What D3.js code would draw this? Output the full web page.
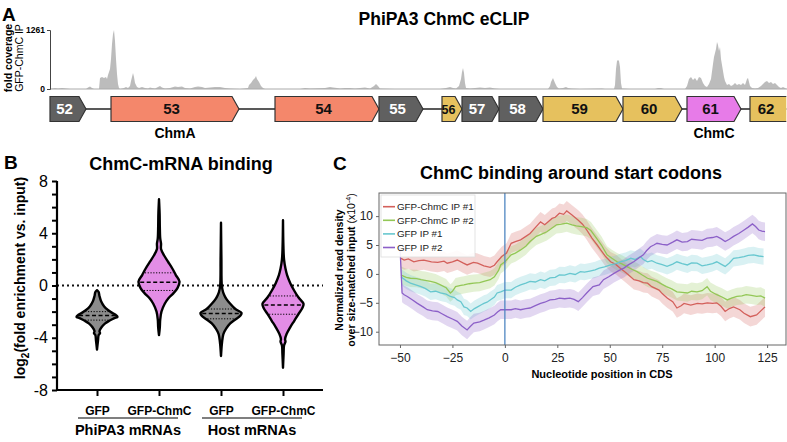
<!DOCTYPE html>
<html>
<head>
<meta charset="utf-8">
<script src="https://cdn.jsdelivr.net/npm/d3@7"></script>
<style>
  body { margin: 0; background: #fff; }
  svg { font-family: "Liberation Sans", Arial, sans-serif; }
</style>
</head>
<body>
<svg id="fig" width="787" height="442"></svg>
<script>
// ---- panel A data ----
var geneNames = ["52", "53", "54", "55", "56", "57", "58", "59", "60", "61", "62"];
var geneStart = [0, 610, 2250, 3290, 3920, 4120, 4490, 4930, 5730, 6370, 7000];
var geneEnd = [360, 1890, 3290, 3730, 4120, 4490, 4930, 5730, 6320, 6910, 7450];
var geneKind = ["other", "chmA", "chmA", "other", "yellow", "other", "other", "yellow", "yellow", "chmC", "yellow"];
var geneTags = [{ gene: "53", text: "ChmA" }, { gene: "61", text: "ChmC" }];
var coverage = [[0,0],[50,21],[80,11],[120,21],[160,11],[200,0],[360,0],[380,32],[400,54],[420,21],[440,0],
  [490,0],[500,235],[520,257],[540,235],[560,257],[570,214],[580,300],[600,428],[610,642],[620,963],[630,1177],
  [640,1261],[650,1027],[660,642],[670,321],[680,107],[690,21],[700,0],[740,21],[760,43],[780,21],[800,64],
  [810,171],[830,342],[840,257],[850,128],[870,43],[890,21],[920,43],[950,21],[980,11],[1000,32],[1020,21],
  [1050,11],[1080,43],[1100,64],[1120,32],[1150,11],[1200,21],[1250,54],[1280,43],[1320,54],[1350,21],[1400,11],
  [1450,43],[1480,54],[1520,43],[1550,21],[1600,32],[1650,43],[1700,43],[1750,21],[1800,11],[1900,0],[1980,21],
  [1990,86],[2010,128],[2030,193],[2050,235],[2060,278],[2070,214],[2090,150],[2110,64],[2130,21],[2150,0],
  [2500,0],[2550,21],[2600,11],[2750,21],[2800,43],[2830,32],[2870,21],[2900,11],[2950,21],[3000,21],[3050,11],
  [3100,21],[3150,32],[3200,11],[3240,64],[3260,107],[3280,64],[3300,11],[3450,0],[3900,0],[3960,21],[4000,43],
  [4030,21],[4060,11],[4090,64],[4110,214],[4120,364],[4130,449],[4140,342],[4150,128],[4160,21],[4200,11],
  [4250,21],[4300,32],[4350,21],[4400,32],[4450,11],[4500,0],[4980,0],[5000,64],[5010,150],[5030,235],[5050,128],
  [5070,43],[5090,11],[5130,21],[5160,43],[5180,21],[5210,11],[5300,0],[5520,11],[5550,0],[5640,0],[5650,86],
  [5660,428],[5670,599],[5680,621],[5690,599],[5700,471],[5710,128],[5720,11],[5800,0],[6050,0],[6080,21],
  [6110,21],[6140,0],[6350,0],[6370,64],[6390,214],[6410,257],[6430,193],[6450,235],[6470,171],[6490,257],
  [6510,235],[6530,128],[6550,64],[6570,43],[6590,107],[6610,214],[6630,535],[6640,685],[6660,856],[6670,1006],
  [6680,942],[6690,813],[6700,899],[6710,642],[6720,514],[6730,385],[6740,257],[6750,171],[6770,86],[6790,107],
  [6810,64],[6830,86],[6850,128],[6870,86],[6890,107],[6910,86],[6930,128],[6950,86],[6970,214],[6980,235],
  [6990,150],[7000,64],[7020,21],[7050,11],[7080,21],[7110,64],[7130,107],[7150,150],[7170,171],[7190,128],
  [7210,150],[7230,107],[7250,128],[7270,86],[7290,43],[7310,21],[7330,43],[7350,21],[7370,0]];
var covTicks = [0, 1261];

// ---- panel B data ----
var violinCats = ["GFP", "GFP-ChmC", "GFP ", "GFP-ChmC "];
var violinLabels = ["GFP", "GFP-ChmC", "GFP", "GFP-ChmC"];
var violinGroups = [{ name: "PhiPA3 mRNAs", from: 0, to: 1 }, { name: "Host mRNAs", from: 2, to: 3 }];
// [log2 value, relative half width]
var shapeGfpPhage = [[-0.36,0],[-0.5,0.08],[-0.8,0.12],[-1.2,0.2],[-1.6,0.35],[-1.9,0.55],[-2.1,0.75],[-2.3,0.95],
  [-2.4,1.0],[-2.5,0.85],[-2.7,0.6],[-2.9,0.4],[-3.2,0.22],[-3.5,0.12],[-3.65,0.15],[-3.8,0.08],[-4.2,0.05],[-4.9,0]];
var shapeChmcPhage = [[6.6,0],[5.5,0.03],[4.5,0.04],[3.6,0.06],[3.2,0.1],[2.8,0.1],[2.3,0.25],[1.8,0.45],[1.3,0.65],
  [0.8,0.82],[0.3,1.0],[-0.2,0.9],[-0.6,0.7],[-1.0,0.45],[-1.4,0.28],[-2.0,0.12],[-2.6,0.06],[-3.2,0.04],[-3.8,0]];
var shapeGfpHost = [[4.8,0],[2.0,0.02],[0,0.04],[-0.5,0.1],[-0.7,0.15],[-1.0,0.25],[-1.4,0.45],[-1.8,0.7],[-2.1,1.0],
  [-2.3,0.95],[-2.6,0.7],[-2.9,0.45],[-3.3,0.25],[-3.7,0.12],[-4.0,0.08],[-4.5,0.04],[-5.4,0]];
var shapeChmcHost = [[5.0,0],[3.0,0.02],[2.0,0.05],[1.3,0.12],[0.8,0.2],[0.2,0.35],[-0.4,0.55],[-0.9,0.75],[-1.4,1.0],
  [-1.7,0.95],[-2.2,0.75],[-2.7,0.55],[-3.2,0.35],[-3.7,0.18],[-4.1,0.1],[-4.3,0.12],[-4.6,0.05],[-5.2,0.03],[-6.3,0]];
var violinShapes = [shapeGfpPhage, shapeChmcPhage, shapeGfpHost, shapeChmcHost];
var violinMedian = [-2.3, 0.25, -2.15, -1.5];
var violinQ1 = [-2.65, -0.38, -2.55, -2.2];
var violinQ3 = [-2.0, 0.97, -1.8, -0.8];
var violinIsChmc = [false, true, false, true];

// ---- panel C data ----
var seriesNames = ["GFP-ChmC IP #1", "GFP-ChmC IP #2", "GFP IP #1", "GFP IP #2"];
var chmc1 = [[-49.5,2.7],[-48,2.4],[-46,2.6],[-43.4,2.1],[-41,2.3],[-38.6,2.4],[-35,2.1],[-32,2.0],[-29,2.2],[-27.5,1.85],
  [-25,2.1],[-22.7,2.4],[-20,1.9],[-18,1.55],[-15,2.0],[-13,1.85],[-10,1.4],[-7,1.15],[-5,1.5],[-3.7,2.1],[-1.5,3.0],
  [0.8,3.6],[3,5.3],[5,5.6],[7.5,5.9],[10,6.5],[12,7.0],[14.5,8.0],[17,9.0],[19,8.5],[22.5,9.6],[24,9.8],[26,10.5],
  [28,10.3],[29.5,10.9],[32,10.2],[35,9.3],[37,8.6],[39,7.6],[41.5,6.2],[44,5.0],[46,4.0],[48,3.0],[50.4,2.1],[53,1.6],
  [55,1.0],[57,0.4],[59,-0.2],[61.5,-1.0],[64,-1.2],[66,-1.5],[68,-1.6],[70,-2.2],[73.5,-2.8],[75,-3.4],[77.5,-4.2],
  [80,-4.8],[82,-5.9],[84,-5.5],[85.4,-5.1],[88.6,-5.4],[91.8,-5.1],[94,-5.2],[96.5,-5.0],[99,-5.1],[101,-5.0],
  [103,-5.6],[105,-6.5],[107,-6.0],[109,-5.7],[112,-6.2],[114,-6.8],[117,-7.4],[120,-7.1],[122,-6.4],[124,-5.7]];
var chmc2 = [[-49.5,-0.2],[-47,-0.6],[-45,-0.75],[-42,-0.8],[-40,-1.0],[-38,-1.1],[-35.4,-1.3],[-33,-1.5],[-30.7,-1.9],
  [-28,-2.4],[-26,-3.3],[-25,-3.0],[-23.5,-2.2],[-21,-2.0],[-19.5,-1.9],[-17,-1.7],[-14.8,-1.6],[-12,-1.5],[-10,-1.3],
  [-7,-1.0],[-5,-0.5],[-3,0.6],[-2,1.55],[0,2.1],[3,3.3],[5,3.6],[7.5,4.15],[10,4.8],[12,5.6],[15,6.5],[17,6.8],
  [20,7.3],[22,7.8],[24.6,8.5],[27,8.6],[29.5,8.8],[32,8.5],[34,8.3],[36.5,8.2],[39,8.0],[41,7.5],[44,6.0],[46,5.0],
  [48.7,3.3],[51,2.7],[53.5,2.1],[56,1.7],[58,1.3],[60.5,0.8],[63,0.4],[65.5,-0.2],[68,-0.75],[70,-1.0],[72.5,-1.3],
  [75,-1.8],[77,-2.2],[79.5,-2.6],[82,-3.1],[84.5,-3.2],[87,-3.3],[89,-3.0],[91.6,-3.1],[94,-2.9],[96.4,-2.2],
  [98,-3.0],[101,-3.6],[103.5,-4.0],[106,-4.5],[108,-4.2],[110.6,-3.9],[113,-3.8],[115,-3.6],[117.5,-3.7],[120,-3.9],
  [122,-3.8],[124,-4.2]];
var gfp1 = [[-49.5,-0.5],[-47,-1.2],[-45,-1.6],[-42.5,-1.9],[-40,-2.2],[-38,-2.5],[-35.4,-3.1],[-33,-3.0],[-30.7,-3.3],
  [-28,-3.5],[-26,-3.9],[-24,-4.1],[-22.7,-4.5],[-21,-4.8],[-19.5,-5.7],[-18,-5.9],[-16.3,-6.5],[-14.5,-6.0],[-13,-5.7],
  [-11,-5.3],[-10,-5.1],[-8.5,-4.9],[-7,-4.5],[-5,-4.0],[-3.7,-3.3],[-2,-3.1],[0,-2.8],[3,-2.8],[5,-2.3],[7.5,-1.9],
  [10,-1.6],[12,-1.3],[14.5,-1.4],[17,-1.0],[19,-1.2],[21.5,-0.7],[24,-0.6],[26,-0.17],[28.5,-0.2],[31,0.1],
  [33.5,-0.1],[36,0.4],[38,0.3],[40.5,0.5],[43,0.7],[45,1.0],[47.5,1.2],[50.4,1.55],[53,1.8],[55,2.1],[57.5,2.3],
  [60,2.7],[62,2.5],[64.6,3.0],[66,2.5],[68,2.1],[70,2.3],[72.5,1.85],[75,1.6],[77.3,1.3],[80,1.7],[82,2.1],
  [84.5,1.8],[87,1.55],[89,1.9],[91.6,1.85],[94,1.4],[96.4,1.55],[99,1.8],[101,2.1],[103,1.7],[105,1.3],[107,1.9],
  [109,2.7],[111.5,2.8],[114,3.0],[116,3.2],[118.6,3.3],[121,3.1],[123.3,3.0]];
var gfp2 = [[-50,4.7],[-49,-3.3],[-48,-3.6],[-46.5,-3.9],[-44,-4.5],[-41.7,-5.1],[-39,-5.7],[-37,-6.2],[-34.5,-6.4],
  [-32,-6.5],[-30,-6.9],[-27.5,-7.4],[-25,-7.8],[-22.7,-8.2],[-20.5,-9.0],[-18,-9.7],[-16.5,-9.1],[-14.8,-8.5],
  [-12,-8.3],[-10,-8.0],[-7.5,-7.6],[-5,-7.1],[-3.5,-6.6],[-2,-6.2],[0,-6.2],[3,-6.2],[5,-6.0],[7.5,-6.2],[10,-6.0],
  [12,-5.9],[14.5,-5.5],[17,-5.1],[19,-4.9],[21.5,-4.5],[24,-4.4],[26,-4.2],[28.5,-4.3],[31,-4.2],[33,-4.4],
  [35,-4.8],[37,-4.1],[39,-3.3],[42,-2.2],[45,-1.9],[47,-1.0],[49.5,-0.5],[52,0.1],[54.5,0.6],[56.7,1.0],[59,1.6],
  [61.4,2.1],[64,2.8],[66,3.3],[67.5,4.0],[69.4,4.7],[71,5.0],[72.5,5.3],[75,5.1],[77.3,5.0],[80,5.5],[82,5.9],
  [84.5,5.5],[87,5.6],[89,6.0],[91.6,5.9],[94,5.8],[96.4,6.2],[99,6.3],[101,6.5],[103,6.1],[105,5.6],[107,6.0],
  [109,6.5],[111.5,7.0],[114,7.6],[116,8.1],[118,8.65],[119.5,8.2],[121,7.6],[122.5,7.4],[124,7.3]];
var seriesData = [chmc1, chmc2, gfp1, gfp2];
var seriesBand = [1.7, 1.5, 1.4, 1.6];
var xTicksC = [-50, -25, 0, 25, 50, 75, 100, 125];
var yTicksC = [-10, -5, 0, 5, 10];

var font = '"Liberation Sans", Arial, sans-serif';
var svg = d3.select("#fig");

function bold(sel) { return sel.attr("font-weight", "bold"); }

// panel letters
[["A", 2, 21], ["B", 4, 169], ["C", 333, 170]].forEach(function (p) {
  bold(svg.append("text").attr("x", p[1]).attr("y", p[2]).attr("font-size", 19).text(p[0]));
});

// ================= Panel A =================
var gA = svg.append("g");
var xA = d3.scaleLinear().domain([0, 7370]).range([50, 787]);
var yA = d3.scaleLinear().domain([0, 1261]).range([89, 30]);

bold(gA.append("text").attr("x", 444).attr("y", 25).attr("text-anchor", "middle")
  .attr("font-size", 17.5).text("PhiPA3 ChmC eCLIP"));

gA.append("path").datum(coverage)
  .attr("fill", "#bcbcbc")
  .attr("d", d3.area().x(d => xA(d[0])).y0(yA(0)).y1(d => yA(d[1])));
gA.append("line").attr("x1", xA(0)).attr("x2", xA(7370)).attr("y1", yA(0)).attr("y2", yA(0))
  .attr("stroke", "#aaa").attr("stroke-width", 1);

var axA = gA.append("g").attr("transform", "translate(50,0)")
  .call(d3.axisLeft(yA).tickValues(covTicks).tickSize(3).tickFormat(d3.format("d")));
axA.select(".domain").attr("stroke", "#444");
axA.selectAll(".tick line").attr("stroke", "#444");
axA.selectAll("text").attr("font-size", 8.5).attr("font-weight", "bold").attr("font-family", font).attr("dx", 1);

var labA = gA.append("text").attr("transform", "translate(12,58) rotate(-90)").attr("text-anchor", "middle")
  .attr("font-size", 10.5);
bold(labA.append("tspan").attr("x", 0).attr("y", 0).text("fold coverage"));
labA.append("tspan").attr("x", 0).attr("y", 11).text("GFP-ChmC IP");

var geneColor = { other: "#606060", chmA: "#f4876b", yellow: "#e6c15e", chmC: "#e77be8" };
var geneText = { other: "#fff", chmA: "#111", yellow: "#111", chmC: "#111" };
var rowTop = 96.5, rowBot = 121.5, rowMid = (rowTop + rowBot) / 2, tip = 7;

var clipA = svg.append("defs").append("clipPath").attr("id", "clipA");
clipA.append("rect").attr("x", 49).attr("y", 90).attr("width", 737.3).attr("height", 40);
var genesG = gA.append("g").attr("clip-path", "url(#clipA)");
genesG.append("line").attr("x1", xA(0)).attr("x2", xA(7370)).attr("y1", rowMid).attr("y2", rowMid)
  .attr("stroke", "#222").attr("stroke-width", 1.4);

var gene = genesG.selectAll("g.gene").data(geneNames).join("g").attr("class", "gene");
gene.append("path")
  .attr("d", function (d, i) {
    var x0 = xA(geneStart[i]), x1 = xA(geneEnd[i]);
    return "M" + x0 + "," + rowTop + "L" + (x1 - tip) + "," + rowTop + "L" + x1 + "," + rowMid +
      "L" + (x1 - tip) + "," + rowBot + "L" + x0 + "," + rowBot + "Z";
  })
  .attr("fill", (d, i) => geneColor[geneKind[i]])
  .attr("stroke", "#333").attr("stroke-width", 1.2).attr("stroke-linejoin", "miter");
gene.append("text")
  .attr("x", function (d, i) {
    var e = Math.min(geneEnd[i], 7370 + 60);
    return (xA(geneStart[i]) + xA(e) - tip) / 2 - (i === 10 ? 2 : 0);
  })
  .attr("y", rowMid + 5)
  .attr("text-anchor", "middle")
  .attr("font-size", (d, i) => geneEnd[i] - geneStart[i] < 250 ? 12.5 : 15)
  .attr("font-weight", "bold")
  .attr("fill", (d, i) => geneText[geneKind[i]])
  .text(d => d);

geneTags.forEach(function (t) {
  var i = geneNames.indexOf(t.gene);
  bold(gA.append("text").attr("x", (xA(geneStart[i]) + xA(geneEnd[i])) / 2).attr("y", 138)
    .attr("text-anchor", "middle").attr("font-size", 14).text(t.text));
});

// ================= Panel B =================
var gB = svg.append("g");
var yB = d3.scaleLinear().domain([-8, 8]).range([390, 181]);
var xB = d3.scalePoint().domain(violinCats).range([97, 283]);
var wB = d3.scaleLinear().domain([0, 1]).range([0, 20.5]);
var plotRightB = 323;

bold(gB.append("text").attr("x", 181).attr("y", 170).attr("text-anchor", "middle")
  .attr("font-size", 18).text("ChmC-mRNA binding"));

// zero reference line
gB.append("line").attr("x1", 57).attr("x2", plotRightB).attr("y1", yB(0)).attr("y2", yB(0))
  .attr("stroke", "#111").attr("stroke-width", 2).attr("stroke-dasharray", "2,3");

function widthAt(shape, v) {
  for (var k = 0; k < shape.length - 1; k++) {
    var a = shape[k], b = shape[k + 1];
    if (v <= a[0] && v >= b[0]) {
      var t = (a[0] - v) / (a[0] - b[0]);
      return a[1] + t * (b[1] - a[1]);
    }
  }
  return 0;
}

violinShapes.forEach(function (shape, i) {
  var cx = xB(violinCats[i]);
  var area = d3.area()
    .curve(d3.curveCatmullRom)
    .y(d => yB(d[0]))
    .x0(d => cx - wB(d[1]))
    .x1(d => cx + wB(d[1]));
  gB.append("path").datum(shape).attr("d", area)
    .attr("fill", violinIsChmc[i] ? "#e38de6" : "#8c8c8c")
    .attr("stroke", "#000").attr("stroke-width", 2.4).attr("stroke-linejoin", "round");
  [[violinQ1[i], "1.2,1.6", 1], [violinQ3[i], "1.2,1.6", 1], [violinMedian[i], "4,2.5", 1.5]].forEach(function (q) {
    var hw = wB(widthAt(shape, q[0])) - 1.5;
    gB.append("line").attr("x1", cx - hw).attr("x2", cx + hw).attr("y1", yB(q[0])).attr("y2", yB(q[0]))
      .attr("stroke", "#000").attr("stroke-width", q[2]).attr("stroke-dasharray", q[1]);
  });
});

var axB = gB.append("g").attr("transform", "translate(57,0)")
  .call(d3.axisLeft(yB).tickValues(d3.range(-8, 9, 1)).tickSize(5)
    .tickFormat(d => d % 4 === 0 ? d : ""));
axB.select(".domain").attr("stroke-width", 2.2).attr("d", "M0," + yB(8) + "V" + yB(-8));
axB.selectAll(".tick line").attr("stroke-width", 2);
axB.selectAll("text").attr("font-size", 16).attr("font-family", font).attr("dx", -1);

var axBx = gB.append("g").attr("transform", "translate(0," + yB(-8) + ")")
  .call(d3.axisBottom(xB).tickSize(6).tickFormat((d, i) => violinLabels[i]));
axBx.select(".domain").attr("stroke-width", 2.2).attr("d", "M57,0H" + plotRightB);
axBx.selectAll(".tick line").attr("stroke-width", 2);
axBx.selectAll("text").attr("font-size", 12).attr("font-weight", "bold").attr("font-family", font)
  .attr("dy", "1.3em");

violinGroups.forEach(function (g) {
  var a = xB(violinCats[g.from]) - 19, b = xB(violinCats[g.to]) + 19;
  gB.append("line").attr("x1", a).attr("x2", b).attr("y1", 418).attr("y2", 418)
    .attr("stroke", "#000").attr("stroke-width", 1.2);
  bold(gB.append("text").attr("x", (a + b) / 2).attr("y", 435).attr("text-anchor", "middle")
    .attr("font-size", 14.5).text(g.name));
});

var labB = bold(gB.append("text").attr("transform", "translate(25,278) rotate(-90)")
  .attr("text-anchor", "middle").attr("font-size", 14));
labB.append("tspan").text("log");
labB.append("tspan").attr("font-size", 10).attr("dy", 4).text("2");
labB.append("tspan").attr("dy", -4).text("(fold enrichment vs. input)");

// ================= Panel C =================
var gC = svg.append("g");
var xC = d3.scaleLinear().domain([-60, 134]).range([379, 786]);
var yC = d3.scaleLinear().domain([-12.3, 14]).range([345, 193]);
var colorsC = ["#d3605b", "#93c756", "#67c7cf", "#8c60c8"];

bold(gC.append("text").attr("x", 571).attr("y", 179).attr("text-anchor", "middle")
  .attr("font-size", 18).text("ChmC binding around start codons"));

var clipC = svg.select("defs").append("clipPath").attr("id", "clipC");
clipC.append("rect").attr("x", xC.range()[0]).attr("y", yC.range()[1])
  .attr("width", xC.range()[1] - xC.range()[0]).attr("height", yC.range()[0] - yC.range()[1]);
var plotC = gC.append("g").attr("clip-path", "url(#clipC)");

seriesData.forEach(function (s, i) {
  var band = seriesBand[i];
  plotC.append("path").datum(s)
    .attr("fill", colorsC[i]).attr("fill-opacity", 0.25)
    .attr("d", d3.area().x(d => xC(d[0])).y0(d => yC(d[1] - band)).y1(d => yC(d[1] + band)));
});
seriesData.forEach(function (s, i) {
  plotC.append("path").datum(s)
    .attr("fill", "none").attr("stroke", colorsC[i]).attr("stroke-width", 1.3)
    .attr("d", d3.line().x(d => xC(d[0])).y(d => yC(d[1])));
});
plotC.append("line").attr("x1", xC(0)).attr("x2", xC(0)).attr("y1", yC.range()[0]).attr("y2", yC.range()[1])
  .attr("stroke", "#4f86c2").attr("stroke-width", 1.3);

gC.append("rect").attr("x", xC.range()[0]).attr("y", yC.range()[1])
  .attr("width", xC.range()[1] - xC.range()[0]).attr("height", yC.range()[0] - yC.range()[1])
  .attr("fill", "none").attr("stroke", "#666").attr("stroke-width", 1);

var axCx = gC.append("g").attr("transform", "translate(0," + yC.range()[0] + ")")
  .call(d3.axisBottom(xC).tickValues(xTicksC).tickSize(3));
axCx.select(".domain").remove();
axCx.selectAll(".tick line").attr("stroke", "#666");
axCx.selectAll("text").attr("font-size", 12).attr("font-family", font).attr("fill", "#222").attr("dy", "0.9em");

var axCy = gC.append("g").attr("transform", "translate(" + xC.range()[0] + ",0)")
  .call(d3.axisLeft(yC).tickValues(yTicksC).tickSize(3));
axCy.select(".domain").remove();
axCy.selectAll(".tick line").attr("stroke", "#666");
axCy.selectAll("text").attr("font-size", 12).attr("font-family", font).attr("fill", "#222");

bold(gC.append("text").attr("x", 602).attr("y", 378).attr("text-anchor", "middle")
  .attr("font-size", 11).text("Nucleotide position in CDS"));

var labC = gC.append("text").attr("transform", "translate(343,270) rotate(-90)")
  .attr("text-anchor", "middle").attr("font-size", 10.5);
bold(labC.append("tspan").attr("x", 0).attr("y", 0).text("Normalized read density"));
var l2 = labC.append("tspan").attr("x", 0).attr("y", 11.5);
bold(l2.append("tspan").text("over size-matched input "));
l2.append("tspan").text("(x10");
l2.append("tspan").attr("font-size", 7).attr("dy", -4).text("-4");
l2.append("tspan").attr("dy", 4).text(")");

// legend
var leg = gC.append("g").attr("transform", "translate(381,195)");
leg.append("rect").attr("width", 94).attr("height", 62).attr("fill", "#fff").attr("fill-opacity", 0.9)
  .attr("stroke", "#ddd").attr("stroke-width", 0.8);
seriesNames.forEach(function (n, i) {
  var y = 11.7 + i * 13.6;
  leg.append("line").attr("x1", 2).attr("x2", 14).attr("y1", y).attr("y2", y)
    .attr("stroke", colorsC[i]).attr("stroke-width", 1.6);
  leg.append("text").attr("x", 16).attr("y", y + 3.4).attr("font-size", 9.8).attr("fill", "#222").text(n);
});
</script>
</body>
</html>
